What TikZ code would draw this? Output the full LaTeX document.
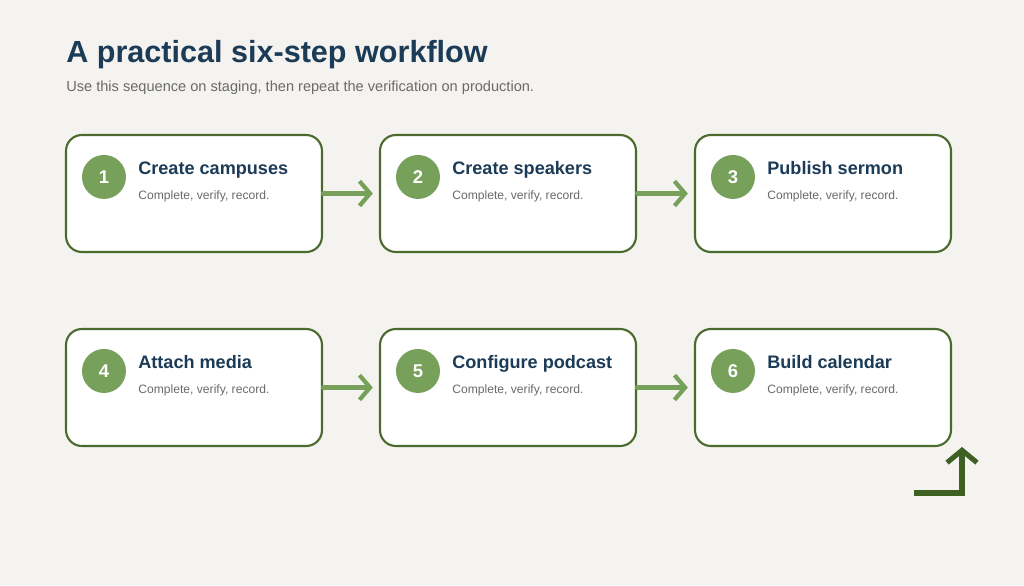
\documentclass[tikz,border=0pt]{standalone}
\usepackage{fontspec}
\setmainfont{Liberation Sans}
\usetikzlibrary{arrows.meta, positioning, calc}
\definecolor{paper}{HTML}{F5F3EF}
\definecolor{ink}{HTML}{1C3B57}
\definecolor{muted}{HTML}{6A6A6A}
\definecolor{sage}{HTML}{77A05A}
\definecolor{moss}{HTML}{4A6A2E}
\definecolor{fern}{HTML}{3E6123}

\tikzset{
  stepbox/.style={draw=moss, line width=1.2pt, fill=white, rounded corners=9pt,
    minimum width=5.12cm, minimum height=2.34cm, inner sep=0pt},
  badge/.style={circle, fill=sage, text=white, minimum size=0.88cm, inner sep=0pt,
    font=\fontsize{10.5}{12}\selectfont\bfseries},
  steptitle/.style={anchor=base west, text=ink, inner sep=0pt,
    font=\fontsize{10.3}{12}\selectfont\bfseries},
  stepnote/.style={anchor=base west, text=muted, inner sep=0pt,
    font=\fontsize{6.9}{8}\selectfont},
  flow/.style={draw=sage, line width=2.4pt, line cap=round,
    -{Straight Barb[length=6pt, width=14pt, line width=2.4pt]}, shorten >=3.5pt},
}

\begin{document}
\begin{tikzpicture}[x=0.02cm, y=-0.02cm]
  \fill[paper] (0,0) rectangle (1024,585);
  \useasboundingbox (0,0) rectangle (1024,585);

  % heading
  \node[anchor=base west, inner sep=0pt, text=ink, font=\fontsize{17.4}{20}\selectfont\bfseries]
    (title) at (66,62) {A practical six-step workflow};
  \node[anchor=base west, inner sep=0pt, text=muted, font=\fontsize{8.3}{10}\selectfont]
    (lead) at (66,91) {Use this sequence on staging, then repeat the verification on production.};

  % the six steps
  \foreach \n/\x/\y/\t in {1/194/193.5/Create campuses, 2/508/193.5/Create speakers,
      3/823/193.5/Publish sermon, 4/194/387.5/Attach media,
      5/508/387.5/Configure podcast, 6/823/387.5/Build calendar} {
    \node[stepbox] (b\n) at (\x,\y) {};
    \node[badge] (n\n) at ($(b\n.north west)+(39,43)$) {\n};
    \node[steptitle] (t\n) at ($(b\n.north west)+(73,41)$) {\t};
    \node[stepnote] (s\n) at ($(b\n.north west)+(73,66)$) {Complete, verify, record.};
  }

  \foreach \a/\b in {1/2, 2/3, 4/5, 5/6}
    \draw[flow] (b\a) -- (b\b);

  % return arrow
  \coordinate (turnA) at (914,493);
  \coordinate (turnB) at (962,447);
  \draw[fern, line width=2.9pt, -{Straight Barb[length=7pt, width=17pt, line width=2.9pt]}]
    (turnA) -| (turnB);
\end{tikzpicture}
\end{document}
